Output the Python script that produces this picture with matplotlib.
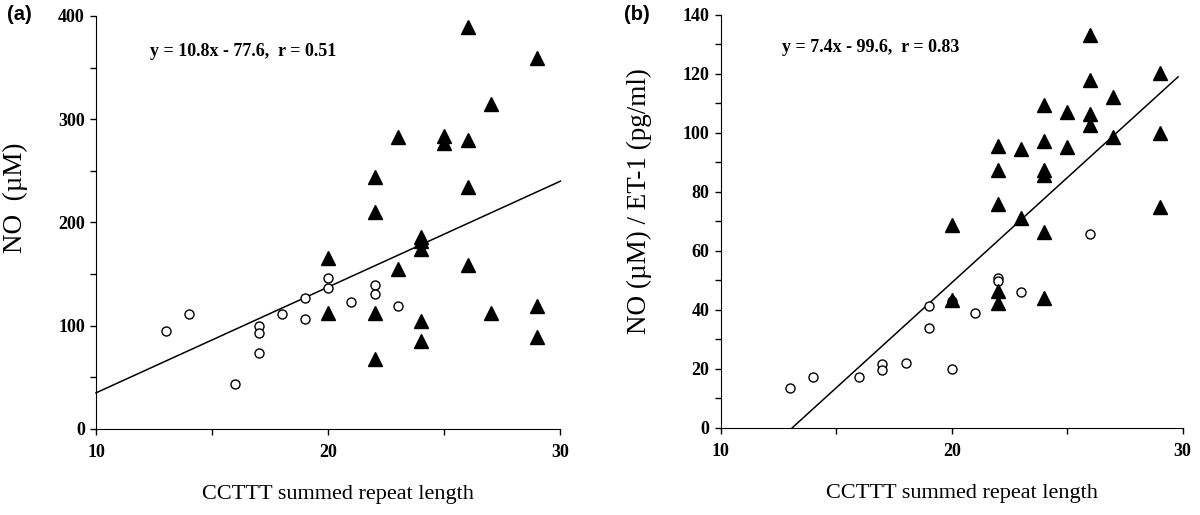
#!/usr/bin/env python3
"""Two-panel scatter: NO and NO/ET-1 against CCTTT summed repeat length."""

import matplotlib

matplotlib.use("Agg")
import matplotlib.pyplot as plt
from matplotlib.ticker import MultipleLocator

# panel (a): NO (uM)
a_open_x = [13, 14, 16, 17, 17, 17, 18, 19, 19, 20, 20, 21, 22, 22, 23]
a_open_y = [94.6, 111.4, 43.6, 99.4, 93.3, 73.9, 111.4, 127.2, 106.2,
            146.6, 136.9, 123.3, 139.1, 130.7, 118.8]
a_fill_x = [26, 29, 27, 23, 25, 25, 26, 22, 26, 22, 24, 24, 24, 20, 26, 23,
            20, 22, 27, 29, 24, 24, 29, 22]
a_fill_y = [389.7, 359, 314.4, 283.1, 283.8, 276.7, 279.6, 244.4, 234.7,
            210.2, 185.6, 182.4, 174, 165.3, 158.8, 155.3, 112, 112, 112,
            119.1, 104.9, 85.6, 88.8, 67.8]
a_line_x = [10, 30]
a_line_y = [35, 240]

# panel (b): NO / ET-1
b_open_x = [13, 14, 16, 17, 17, 18, 19, 19, 20, 20, 21, 22, 22, 23, 26]
b_open_y = [13.3, 17.2, 17.2, 21.6, 19.7, 21.9, 41.3, 33.7, 19.8, 43.1,
            38.8, 50.9, 49.8, 45.9, 65.8]
b_fill_x = [26, 29, 26, 27, 24, 25, 26, 26, 29, 27, 24, 22, 23, 25, 22, 24,
            24, 22, 29, 23, 24, 20, 22, 22, 20, 24]
b_fill_y = [133.2, 120.2, 117.9, 112.3, 109.6, 107, 106.4, 102.7, 99.9,
            98.7, 97.1, 95.7, 94.5, 95.1, 87.5, 87.5, 85.7, 75.8, 75, 71,
            66.5, 68.8, 46.4, 42.4, 43.3, 44.1]
b_line_x = [13.1, 29.8]
b_line_y = [0, 119]

SERIF = ["Liberation Serif", "DejaVu Serif"]
SANS = ["Liberation Sans", "DejaVu Sans"]


def style_axes(ax, ymax, ymajor, yminor):
    for side in ("top", "right"):
        ax.spines[side].set_visible(False)
    ax.set_xlim(10, 30)
    ax.set_ylim(0, ymax)
    ax.xaxis.set_major_locator(MultipleLocator(10))
    ax.xaxis.set_minor_locator(MultipleLocator(5))
    ax.yaxis.set_major_locator(MultipleLocator(ymajor))
    ax.yaxis.set_minor_locator(MultipleLocator(yminor))
    ax.tick_params(which="both", direction="out", length=4, width=1,
                   labelsize=13, pad=4)
    ax.tick_params(axis="x", which="both", pad=7)
    for lab in ax.get_xticklabels() + ax.get_yticklabels():
        lab.set_fontfamily(SERIF)
        lab.set_fontweight("bold")
    ax.set_xlabel("CCTTT summed repeat length", family=SERIF, fontsize=16)


def scatter(ax, ox, oy, fx, fy, lx, ly):
    ax.plot(lx, ly, color="black", lw=1.1, clip_on=False)
    ax.plot(ox, oy, "o", ms=6.5, mfc="white", mec="black", mew=1.0,
            clip_on=False)
    ax.plot(fx, fy, "^", ms=10, color="black", clip_on=False)


fig = plt.figure(figsize=(12, 5.15), dpi=100)
ax1 = fig.add_axes([0.080, 0.167, 0.387, 0.802])
ax2 = fig.add_axes([0.6006, 0.1695, 0.385, 0.8015])

scatter(ax1, a_open_x, a_open_y, a_fill_x, a_fill_y, a_line_x, a_line_y)
style_axes(ax1, 400, 100, 50)
ax1.set_ylabel("NO  (\u00b5M)", family=SERIF, fontsize=19.5)
ax1.yaxis.set_label_coords(-0.147, 0.559)
ax1.xaxis.set_label_coords(0.520, -0.136)
ax1.text(0.117, 0.915, "y = 10.8x - 77.6,  r = 0.51", transform=ax1.transAxes,
         family=SERIF, fontweight="bold", fontsize=13, va="center")

scatter(ax2, b_open_x, b_open_y, b_fill_x, b_fill_y, b_line_x, b_line_y)
style_axes(ax2, 140, 20, 10)
ax2.set_ylabel("NO (\u00b5M) / ET-1 (pg/ml)", family=SERIF, fontsize=19.5)
ax2.yaxis.set_label_coords(-0.149, 0.549)
ax2.xaxis.set_label_coords(0.523, -0.136)
ax2.text(0.133, 0.922, "y = 7.4x - 99.6,  r = 0.83", transform=ax2.transAxes,
         family=SERIF, fontweight="bold", fontsize=13, va="center")

fig.text(0.006, 0.972, "(a)", family=SANS, fontweight="bold", fontsize=14.5,
         va="center")
fig.text(0.520, 0.972, "(b)", family=SANS, fontweight="bold", fontsize=14.5,
         va="center")

fig.savefig("out.png")
